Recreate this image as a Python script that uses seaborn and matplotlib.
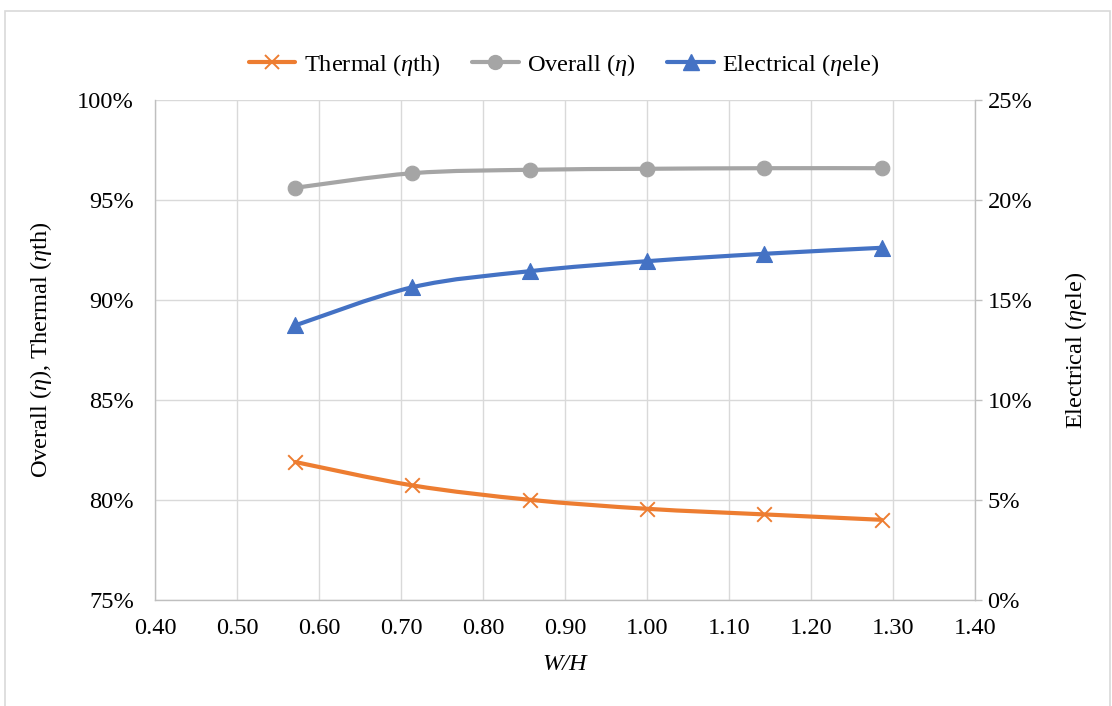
import numpy as np
import matplotlib
matplotlib.use("Agg")
import matplotlib.pyplot as plt
import seaborn as sns
from matplotlib.path import Path
from matplotlib.patches import PathPatch, Rectangle
from matplotlib.lines import Line2D
from matplotlib.ticker import PercentFormatter, MultipleLocator

# data (percent)
wh = [0.571, 0.714, 0.857, 1.000, 1.143, 1.286]
thermal = [81.90, 80.73, 80.01, 79.56, 79.28, 79.01]
overall = [95.61, 96.34, 96.51, 96.56, 96.59, 96.59]
electrical = [13.73, 15.64, 16.44, 16.94, 17.31, 17.61]

c_th = "#ED7D31"
c_ov = "#A5A5A5"
c_el = "#4472C4"
grid_c = "#D9D9D9"
axis_c = "#BFBFBF"

sns.set_style("white")
plt.rcParams["font.family"] = ["Liberation Serif", "DejaVu Serif"]
plt.rcParams["mathtext.fontset"] = "custom"
plt.rcParams["mathtext.rm"] = "Liberation Serif"
plt.rcParams["mathtext.it"] = "Liberation Serif:italic"
plt.rcParams["text.color"] = "black"
plt.rcParams["axes.labelcolor"] = "black"
plt.rcParams["xtick.color"] = "black"
plt.rcParams["ytick.color"] = "black"
fs = 17.6


def smooth_path(x, y, t=1/6):
    # excel-like smoothed line through the points (bezier segments)
    pts = np.column_stack([x, y])
    p = np.vstack([pts[0], pts, pts[-1]])
    verts = [pts[0]]
    codes = [Path.MOVETO]
    for i in range(1, len(p) - 2):
        c1 = p[i] + (p[i + 1] - p[i - 1]) * t
        c2 = p[i + 1] - (p[i + 2] - p[i]) * t
        verts += [c1, c2, p[i + 1]]
        codes += [Path.CURVE4] * 3
    return Path(verts, codes)


fig = plt.figure(figsize=(11.12, 7.06), dpi=100)
ax = fig.add_axes([155/1112, 106/706, 820/1112, 500/706])
ax2 = ax.twinx()

# outer chart border
fig.patches.append(Rectangle((5/1112, -0.05), 1105/1112, 1.05 - 11/706,
                             transform=fig.transFigure, fill=False,
                             edgecolor=grid_c, linewidth=1.2))

lw = 3.0
ax.add_patch(PathPatch(smooth_path(wh, thermal), fill=False, edgecolor=c_th,
                       linewidth=lw, capstyle="round", zorder=3))
ax.add_patch(PathPatch(smooth_path(wh, overall), fill=False, edgecolor=c_ov,
                       linewidth=lw, capstyle="round", zorder=3))
ax2.add_patch(PathPatch(smooth_path(wh, electrical), fill=False, edgecolor=c_el,
                        linewidth=lw, capstyle="round", zorder=3))

sns.scatterplot(x=wh, y=thermal, marker="x", s=110, color=c_th, linewidth=1.4,
                ax=ax, zorder=4)
sns.scatterplot(x=wh, y=overall, marker="o", s=110, color=c_ov, edgecolor=c_ov,
                ax=ax, zorder=4)
sns.scatterplot(x=wh, y=electrical, marker="^", s=130, color=c_el, edgecolor=c_el,
                ax=ax2, zorder=4)

ax.set_xlim(0.4, 1.4)
ax.set_ylim(75, 100)
ax2.set_ylim(0, 25)
ax.xaxis.set_major_locator(MultipleLocator(0.1))
ax.yaxis.set_major_locator(MultipleLocator(5))
ax2.yaxis.set_major_locator(MultipleLocator(5))
ax.xaxis.set_major_formatter(matplotlib.ticker.FormatStrFormatter("%.2f"))
ax.yaxis.set_major_formatter(PercentFormatter(decimals=0))
ax2.yaxis.set_major_formatter(PercentFormatter(decimals=0))

ax.grid(True, color=grid_c, linewidth=1.0)
ax.set_axisbelow(True)

for s in ["top", "right"]:
    ax.spines[s].set_visible(False)
for s in ["left", "bottom"]:
    ax.spines[s].set_color(axis_c)
    ax.spines[s].set_linewidth(1.0)
for s in ["top", "left", "bottom"]:
    ax2.spines[s].set_visible(False)
ax2.spines["right"].set_color(axis_c)
ax2.spines["right"].set_linewidth(1.0)

ax.tick_params(axis="y", length=0, pad=15, labelsize=fs)
ax.tick_params(axis="x", length=0, pad=13, labelsize=fs)
ax2.tick_params(axis="y", length=5, width=1.0, color=axis_c, labelcolor="black",
                pad=4, labelsize=fs)

ax.set_xlabel("W/H", fontsize=fs, fontstyle="italic", labelpad=11)
ax.set_ylabel(r"Overall ($\eta$), Thermal ($\eta$th)", fontsize=fs, labelpad=17)
ax2.set_ylabel(r"Electrical ($\eta$ele)", fontsize=fs, labelpad=22)

handles = [
    Line2D([], [], color=c_th, linewidth=lw, marker="x", markersize=10,
           markeredgewidth=1.4),
    Line2D([], [], color=c_ov, linewidth=lw, marker="o", markersize=10),
    Line2D([], [], color=c_el, linewidth=lw, marker="^", markersize=11),
]
labels = [r"Thermal ($\eta$th)", r"Overall ($\eta$)", r"Electrical ($\eta$ele)"]
fig.legend(handles, labels, loc="center", bbox_to_anchor=(564/1112, 1 - 65/706),
           ncol=3, frameon=False, fontsize=fs, handlelength=1.9,
           handletextpad=0.35, columnspacing=1.3)

fig.savefig("out.png", dpi=100)
